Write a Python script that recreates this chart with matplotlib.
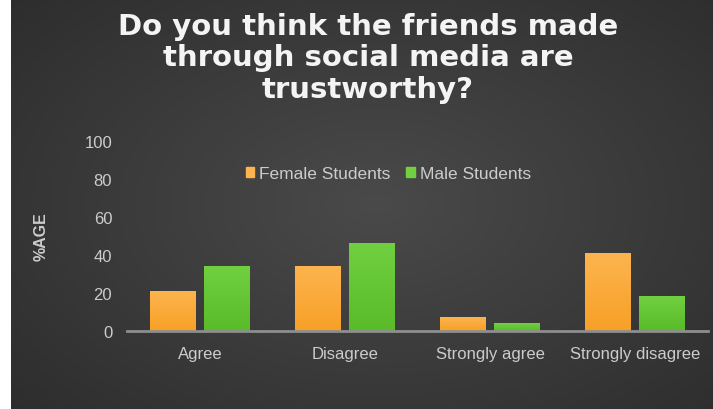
import numpy as np
import matplotlib
matplotlib.use("Agg")
import matplotlib.pyplot as plt

plt.rcParams["font.family"] = ["Liberation Sans", "DejaVu Sans"]

categories = ["Agree", "Disagree", "Strongly agree", "Strongly disagree"]
female = [21, 34, 7, 41]
male = [34, 46, 4, 18]
series_names = ["Female Students", "Male Students"]
yticks = [0, 20, 40, 60, 80, 100]

ORANGE = ("#fdb44e", "#f7a026")   # top, bottom of the bar fill
GREEN = ("#70d040", "#5abb2a")
TEXT = "#cccccc"

fig = plt.figure(figsize=(7.13, 4.10), dpi=100, facecolor="white")

# dark slide background with a soft radial highlight
bg = fig.add_axes([11 / 713, 0, 1 - 11 / 713, 1])
yy, xx = np.mgrid[0:1:300j, 0:1:500j]
r = np.sqrt(((xx - 0.52) / 0.75) ** 2 + ((yy - 0.5) / 0.8) ** 2)
shade = np.clip(0.29 - 0.12 * r, 0.17, 0.3)
bg.imshow(np.dstack([shade] * 3), extent=[0, 1, 0, 1], aspect="auto", origin="lower")
bg.set_axis_off()

ax = fig.add_axes([0.1788, 0.191, 0.8135, 0.4634])
ax.patch.set_alpha(0)
x = np.arange(len(categories))
w = 0.317
off = 0.186


def gradient_bars(xs, vals, colors, label):
    bars = ax.bar(xs, vals, w, color=colors[1], label=label, zorder=3)
    top = np.array(matplotlib.colors.to_rgb(colors[0]))
    bot = np.array(matplotlib.colors.to_rgb(colors[1]))
    t = np.linspace(0, 1, 64)[:, None]
    grad = (bot * (1 - t) + top * t)[:, None, :]
    for b in bars:
        im = ax.imshow(grad, origin="lower", aspect="auto", zorder=3.5,
                       extent=[b.get_x(), b.get_x() + b.get_width(), 0, b.get_height()])
        im.set_clip_path(b)
    return bars


gradient_bars(x - off, female, ORANGE, series_names[0])
gradient_bars(x + off, male, GREEN, series_names[1])

ax.set_xlim(-0.5, len(categories) - 0.5)
ax.set_ylim(0, 100)
ax.set_yticks(yticks)
ax.set_xticks(x)
ax.set_xticklabels(categories)
ax.tick_params(axis="both", length=0, colors=TEXT, labelsize=12)
ax.tick_params(axis="y", pad=11)
ax.tick_params(axis="x", pad=11)
for s in ["top", "right", "left"]:
    ax.spines[s].set_visible(False)
ax.spines["bottom"].set_color("#8e8e8e")
ax.spines["bottom"].set_linewidth(2)
ax.spines["bottom"].set_zorder(4)

ax.set_ylabel("%AGE", color=TEXT, fontsize=11.5, fontweight="bold", labelpad=26)

leg = ax.legend(loc="center", bbox_to_anchor=(0.45, 0.825), ncol=2, frameon=False,
                fontsize=12.5, handlelength=0.5, handleheight=0.5, handletextpad=0.3,
                columnspacing=0.9)
for t in leg.get_texts():
    t.set_color(TEXT)
for h, c in zip(leg.legend_handles, (ORANGE, GREEN)):
    h.set_color(c[0])

fig.text(0.516, 0.968, "Do you think the friends made\nthrough social media are\ntrustworthy?",
         ha="center", va="top", color="#f4f4f4", fontsize=21, fontweight="bold",
         family="DejaVu Sans", linespacing=1.15)

fig.savefig("out.png", dpi=100)
